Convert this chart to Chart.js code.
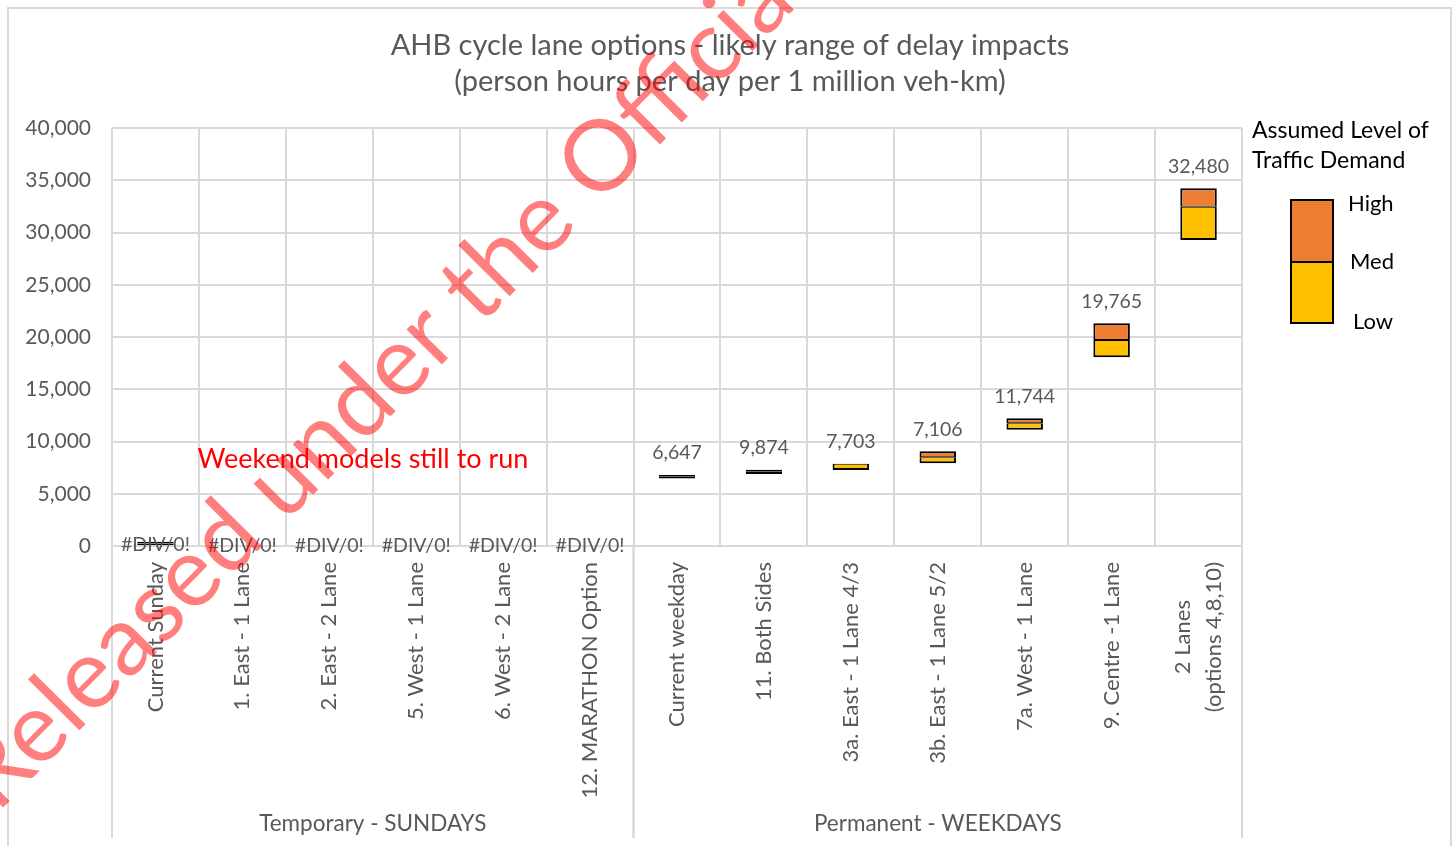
<!DOCTYPE html>
<html>
<head>
<meta charset="utf-8">
<title>AHB cycle lane options</title>
<script src="https://cdn.jsdelivr.net/npm/chart.js@4.4.1/dist/chart.umd.min.js"></script>
<style>
  html, body { margin: 0; padding: 0; background: #fff; overflow: hidden; }
  #wrap { width: 1455px; height: 846px; position: relative; }
</style>
</head>
<body>
<div id="wrap"><canvas id="chart"></canvas></div>
<script>
// Options along the x axis, split into two groups
const categories = [
  'Current Sunday', '1. East - 1 Lane', '2. East - 2 Lane', '5. West - 1 Lane', '6. West - 2 Lane', '12. MARATHON Option',
  'Current weekday', '11. Both Sides', '3a. East - 1 Lane 4/3', '3b. East - 1 Lane 5/2', '7a. West - 1 Lane',
  '9. Centre -1 Lane', ['2 Lanes', '(options 4,8,10)']
];
const groupNames = ['Temporary - SUNDAYS', 'Permanent - WEEKDAYS'];
const groupSizes = [6, 7];

// Delay impact range per option (person hours / day / 1M veh-km)
const lowValues  = [100, null, null, null, null, null, 6470, 6900, 7270, 7910, 11130, 18060, 29280];
const medValues  = [250, null, null, null, null, null, 6630, 7100, 7880, 8490, 11740, 19710, 32470];
const highValues = [400, null, null, null, null, null, 6790, 7300, 7880, 9060, 12220, 21310, 34230];
const valueLabels = ['#DIV/0!', '#DIV/0!', '#DIV/0!', '#DIV/0!', '#DIV/0!', '#DIV/0!',
  '6,647', '9,874', '7,703', '7,106', '11,744', '19,765', '32,480'];

// Axis + legend text
const yMin = 0, yMax = 40000, yStep = 5000;
const titleLines = ['AHB cycle lane options - likely range of delay impacts', '(person hours per day per 1 million veh-km)'];
const legendTitle = ['Assumed Level of', 'Traffic Demand'];
const legendLabels = ['High', 'Med', 'Low'];
const noteText = 'Weekend models still to run';
const watermarkText = 'Released under the Official Information Act';

const FONT = 'Lato, "Open Sans", sans-serif';
const GREY = '#595959';
const GRID = '#D9D9D9';
const YELLOW = '#FFC000';
const ORANGE = '#ED7D31';

// floating bars: [low, med] and [med, high]
const lowerRange = lowValues.map((v, i) => v == null ? null : [v, medValues[i]]);
const upperRange = highValues.map((v, i) => (v == null || v === medValues[i]) ? null : [medValues[i], v]);

// very narrow ranges render as solid outline colour (borders overlap in the original)
function fillFor(colour) {
  return c => {
    const i = c.dataIndex;
    if (lowValues[i] != null && highValues[i] - lowValues[i] < 500) return '#000';
    return colour;
  };
}

function setFont(ctx, size, color) {
  ctx.font = size + 'px ' + FONT;
  ctx.fillStyle = color;
}

const decorPlugin = {
  id: 'decor',
  beforeDraw(chart) {
    const ctx = chart.ctx;
    ctx.save();
    ctx.strokeStyle = GRID;
    ctx.lineWidth = 2;
    ctx.strokeRect(8, 8, 1443, 860);
    ctx.restore();
  },
  afterDraw(chart) {
    const ctx = chart.ctx;
    const area = chart.chartArea;
    const xs = chart.scales.x;
    const ys = chart.scales.y;
    const catW = (area.right - area.left) / categories.length;

    ctx.save();

    // title
    setFont(ctx, 29, GREY);
    ctx.textAlign = 'center';
    ctx.textBaseline = 'middle';
    titleLines.forEach((t, k) => ctx.fillText(t, 730, 46 + k * 36));

    // value labels above bars
    setFont(ctx, 19.5, GREY);
    valueLabels.forEach((lab, i) => {
      const x = xs.getPixelForValue(i);
      let y;
      if (lab.charAt(0) === '#') y = ys.getPixelForValue(lowValues[i] || 0);
      else y = ys.getPixelForValue(highValues[i]) - 22;
      ctx.fillText(lab, x, y);
    });

    // rotated category labels
    setFont(ctx, 22, GREY);
    ctx.textBaseline = 'middle';
    categories.forEach((lab, i) => {
      const lines = Array.isArray(lab) ? lab : [lab];
      const x = xs.getPixelForValue(i);
      ctx.save();
      ctx.translate(x, area.bottom + 16);
      ctx.rotate(-Math.PI / 2);
      const w = Math.max(...lines.map(l => ctx.measureText(l).width));
      ctx.textAlign = 'center';
      lines.forEach((l, k) => {
        ctx.fillText(l, -w / 2, (k - (lines.length - 1) / 2) * 31);
      });
      ctx.restore();
    });

    // group dividers and names
    ctx.strokeStyle = GRID;
    ctx.lineWidth = 2;
    let start = 0;
    groupSizes.forEach((n, g) => {
      const x0 = area.left + start * catW;
      const x1 = area.left + (start + n) * catW;
      ctx.beginPath();
      ctx.moveTo(x0, area.bottom);
      ctx.lineTo(x0, 838);
      ctx.moveTo(x1, area.bottom);
      ctx.lineTo(x1, 838);
      ctx.stroke();
      setFont(ctx, 22.5, GREY);
      ctx.textAlign = 'center';
      ctx.fillText(groupNames[g], (x0 + x1) / 2, 824);
      start += n;
    });

    // note
    setFont(ctx, 27, '#FF0000');
    ctx.textAlign = 'center';
    ctx.fillText(noteText, 363, ys.getPixelForValue(8300));

    // legend
    setFont(ctx, 23, '#000');
    ctx.textAlign = 'left';
    legendTitle.forEach((t, k) => ctx.fillText(t, 1252, 131 + k * 30));
    ctx.fillStyle = ORANGE;
    ctx.fillRect(1291, 200, 42, 62);
    ctx.fillStyle = YELLOW;
    ctx.fillRect(1291, 262, 42, 61);
    ctx.strokeStyle = '#000';
    ctx.lineWidth = 2;
    ctx.strokeRect(1291, 200, 42, 123);
    ctx.beginPath();
    ctx.moveTo(1291, 262);
    ctx.lineTo(1333, 262);
    ctx.stroke();
    setFont(ctx, 22, '#000');
    const legY = [204, 262, 322];
    const legX = [1348, 1350, 1353];
    legendLabels.forEach((t, k) => ctx.fillText(t, legX[k], legY[k]));

    // watermark
    const ang = Math.atan2(157 - 705, 603 - 60);
    ctx.font = '100px ' + FONT;
    const wRe = ctx.measureText('Re').width;
    const wl = ctx.measureText('l').width;
    const wPre = ctx.measureText('Released under the ').width;
    const wO = ctx.measureText('O').width;
    const d100 = (wPre + wO / 2) - (wRe + wl / 2);
    const dist = Math.hypot(603 - 60, 157 - 705);
    const fs = 100 * dist / d100;
    ctx.font = fs + 'px ' + FONT;
    ctx.fillStyle = 'rgba(255, 0, 0, 0.5)';
    ctx.textAlign = 'left';
    ctx.textBaseline = 'middle';
    ctx.translate(60, 705);
    ctx.rotate(ang);
    ctx.fillText(watermarkText, -(wRe + wl / 2) * fs / 100, 0);

    ctx.restore();
  }
};

const barStyle = {
  borderColor: '#000',
  borderSkipped: false,
  grouped: false,
  barPercentage: 0.42,
  categoryPercentage: 1
};

new Chart(document.getElementById('chart'), {
  type: 'bar',
  data: {
    labels: categories,
    datasets: [
      Object.assign({
        label: 'Low - Med',
        data: lowerRange,
        backgroundColor: fillFor(YELLOW),
        borderWidth: { top: 1, bottom: 2, left: 2, right: 2 }
      }, barStyle),
      Object.assign({
        label: 'Med - High',
        data: upperRange,
        backgroundColor: fillFor(ORANGE),
        borderWidth: { top: 2, bottom: 1, left: 2, right: 2 }
      }, barStyle)
    ]
  },
  options: {
    responsive: true,
    maintainAspectRatio: false,
    animation: false,
    layout: { padding: { top: 128, right: 213, left: 0, bottom: 0 } },
    plugins: {
      legend: { display: false },
      title: { display: false },
      tooltip: { enabled: false }
    },
    scales: {
      x: {
        offset: true,
        afterFit: scale => { scale.height = 300; },
        ticks: { display: false },
        grid: { color: GRID, lineWidth: 2, offset: true, drawTicks: false },
        border: { color: GRID, width: 2 }
      },
      y: {
        min: yMin,
        max: yMax,
        afterFit: scale => { scale.width = 112; },
        ticks: {
          stepSize: yStep,
          padding: 21,
          color: GREY,
          font: { family: FONT, size: 21 },
          callback: v => v.toLocaleString('en-US')
        },
        grid: { color: GRID, lineWidth: 2, drawTicks: false },
        border: { display: false }
      }
    }
  },
  plugins: [decorPlugin]
});
</script>
</body>
</html>
